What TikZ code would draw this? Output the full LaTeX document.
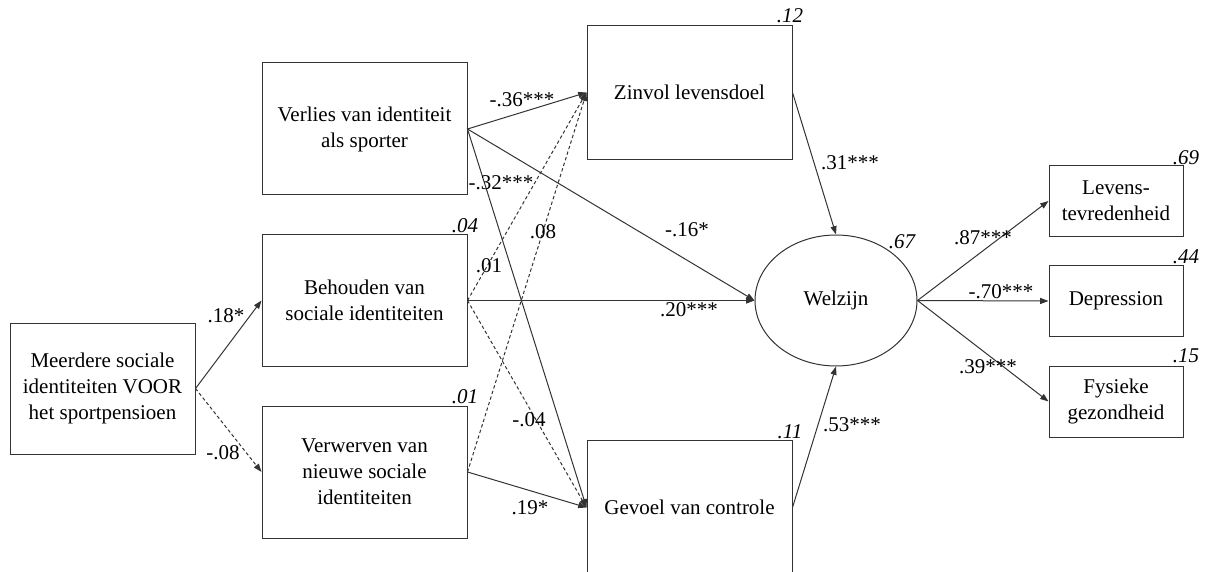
\documentclass[tikz,border=0pt]{standalone}
\usepackage{fontspec}
\setmainfont{Liberation Serif}
\usepackage{tikz}
\usetikzlibrary{arrows.meta}
\usetikzlibrary{shapes}
\tikzset{lbox/.style={draw=black!80, line width=0.6pt, align=center, inner sep=2pt, minimum width=123pt, minimum height=79.2pt}}
\tikzset{mbox/.style={lbox, minimum height=80.4pt}}
\tikzset{rbox/.style={lbox, minimum width=80.4pt, minimum height=42.6pt}}
\tikzset{latent/.style={draw=black!80, line width=0.6pt, ellipse, inner sep=0pt, minimum width=97.2pt, minimum height=78.6pt}}
\tikzset{pth/.style={draw=black!80, line width=0.6pt, -{Triangle[length=5pt,width=3.6pt]}}}
\tikzset{nsig/.style={dash pattern=on 2pt off 1.5pt}}
\tikzset{rsq/.style={font=\fontsize{12.6}{15.6}\selectfont\itshape, inner sep=0pt}}
\tikzset{wt/.style={inner sep=0pt}}

\begin{document}
\begin{tikzpicture}[x=0.6pt,y=-0.6pt,font=\fontsize{12.6}{15.6}\selectfont]
\useasboundingbox (0,0) rectangle (1205,572);
% variables
\node[lbox, minimum width=111pt, minimum height=78.6pt] (meer) at (102.5,388.5) {Meerdere sociale\\identiteiten VOOR\\het sportpensioen};
\node[lbox] (verlies) at (364.5,129) {Verlies van identiteit\\als sporter};
\node[lbox] (behoud) at (364.5,300.5) {Behouden van\\sociale identiteiten};
\node[lbox] (verwerf) at (364.5,472) {Verwerven van\\nieuwe sociale\\identiteiten};
\node[mbox] (zinvol) at (689.5,92.5) {Zinvol levensdoel};
\node[mbox] (gevoel) at (689.5,507.5) {Gevoel van controle};
\node[latent] (welzijn) at (836,300.5) {Welzijn};
\node[rbox] (levens) at (1116,201) {Levens-\\tevredenheid};
\node[rbox] (depr) at (1116,301) {Depression};
\node[rbox] (fysiek) at (1116,401.5) {Fysieke\\gezondheid};
% explained variance
\node[rsq] (r2behoud) at (465,226) {.04};
\node[rsq] (r2verwerf) at (465,397) {.01};
\node[rsq] (r2zinvol) at (790,16) {.12};
\node[rsq] (r2gevoel) at (790,432) {.11};
\node[rsq] (r2welzijn) at (902,242) {.67};
\node[rsq] (r2levens) at (1186,158) {.69};
\node[rsq] (r2depr) at (1186,257) {.44};
\node[rsq] (r2fysiek) at (1186,356) {.15};
% paths
\draw[pth] (meer.east) -- (behoud.west);
\draw[pth,nsig] (meer.east) -- (verwerf.west);
\draw[pth] (verlies.east) -- (zinvol.west);
\draw[pth] (verlies.east) -- (welzijn.west);
\draw[pth] (verlies.east) -- (gevoel.west);
\draw[pth] (behoud.east) -- (welzijn.west);
\draw[pth,nsig] (behoud.east) -- (zinvol.west);
\draw[pth,nsig] (behoud.east) -- (gevoel.west);
\draw[pth,nsig] (verwerf.east) -- (zinvol.west);
\draw[pth] (verwerf.east) -- (gevoel.west);
\draw[pth] (zinvol.east) -- (welzijn.north);
\draw[pth] (gevoel.east) -- (welzijn.south);
\draw[pth] (welzijn.east) -- (levens.west);
\draw[pth] (welzijn.east) -- (depr.west);
\draw[pth] (welzijn.east) -- (fysiek.west);
% coefficients
\node[wt] (w18) at (226,316) {.18*};
\node[wt] (w08a) at (223,453) {-.08};
\node[wt] (w36) at (522,100) {-.36***};
\node[wt] (w32) at (501,183) {-.32***};
\node[wt] (w01) at (489,266) {.01};
\node[wt] (w08b) at (543,232) {.08};
\node[wt] (w04) at (529,420) {-.04};
\node[wt] (w19) at (530,508) {.19*};
\node[wt] (w16) at (687,230) {-.16*};
\node[wt] (w20) at (689,310) {.20***};
\node[wt] (w31) at (850,163) {.31***};
\node[wt] (w53) at (852,425) {.53***};
\node[wt] (w87) at (983,238) {.87***};
\node[wt] (w70) at (1001,292) {-.70***};
\node[wt] (w39) at (988,367) {.39***};
\end{tikzpicture}
\end{document}
